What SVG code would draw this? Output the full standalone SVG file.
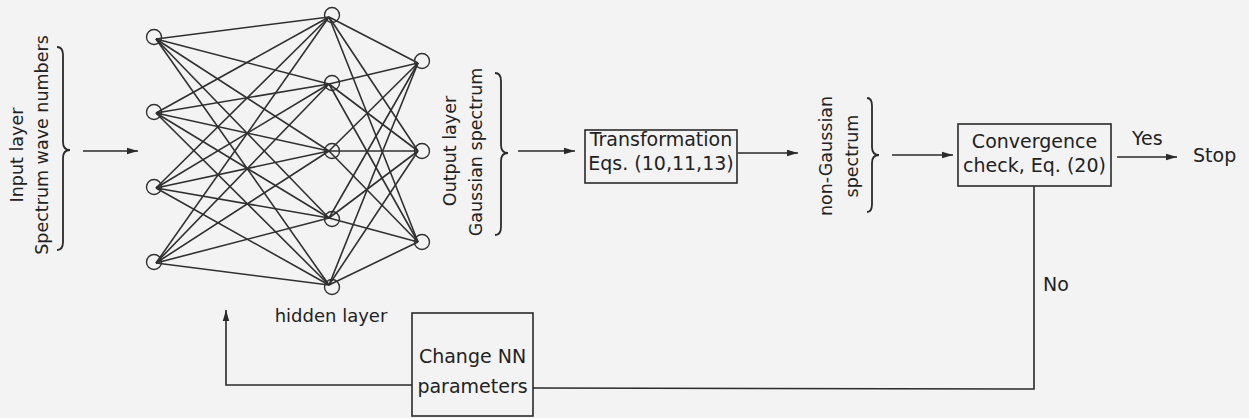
<svg xmlns="http://www.w3.org/2000/svg" width="1249" height="418" viewBox="0 0 1249 418">
<defs>
<marker id="ah" markerWidth="12" markerHeight="8" refX="11" refY="4" orient="auto" markerUnits="userSpaceOnUse">
<path d="M0,0.8 L11,4 L0,7.2 Z" fill="#2a2a2a"/>
</marker>
<style>
.t{font-family:"DejaVu Sans","Liberation Sans",sans-serif;font-size:18px;fill:#222}
.b{font-size:19px}
.r{font-size:17.5px}
.c{text-anchor:middle}
.ln{stroke:#303030;stroke-width:1.6;fill:none}
.node{fill:none;stroke:#303030;stroke-width:1.4}
.box{fill:none;stroke:#2a2a2a;stroke-width:1.6}
.conn{stroke:#2a2a2a;stroke-width:1.6;fill:none}
.brace{stroke:#2a2a2a;stroke-width:1.8;fill:none}
</style>
</defs>
<rect width="1249" height="418" fill="#f3f3f3"/>

<g id="network-edges">
<line class="ln" x1="156" y1="39" x2="329" y2="17"/>
<line class="ln" x1="156" y1="39" x2="329" y2="84"/>
<line class="ln" x1="156" y1="39" x2="329" y2="151"/>
<line class="ln" x1="156" y1="39" x2="329" y2="218"/>
<line class="ln" x1="156" y1="39" x2="329" y2="285"/>
<line class="ln" x1="156" y1="113" x2="329" y2="17"/>
<line class="ln" x1="156" y1="113" x2="329" y2="84"/>
<line class="ln" x1="156" y1="113" x2="329" y2="151"/>
<line class="ln" x1="156" y1="113" x2="329" y2="218"/>
<line class="ln" x1="156" y1="113" x2="329" y2="285"/>
<line class="ln" x1="156" y1="188" x2="329" y2="17"/>
<line class="ln" x1="156" y1="188" x2="329" y2="84"/>
<line class="ln" x1="156" y1="188" x2="329" y2="151"/>
<line class="ln" x1="156" y1="188" x2="329" y2="218"/>
<line class="ln" x1="156" y1="188" x2="329" y2="285"/>
<line class="ln" x1="156" y1="263" x2="329" y2="17"/>
<line class="ln" x1="156" y1="263" x2="329" y2="84"/>
<line class="ln" x1="156" y1="263" x2="329" y2="151"/>
<line class="ln" x1="156" y1="263" x2="329" y2="218"/>
<line class="ln" x1="156" y1="263" x2="329" y2="285"/>
<line class="ln" x1="329" y1="17" x2="418" y2="63"/>
<line class="ln" x1="329" y1="17" x2="418" y2="151"/>
<line class="ln" x1="329" y1="17" x2="418" y2="242"/>
<line class="ln" x1="329" y1="84" x2="418" y2="63"/>
<line class="ln" x1="329" y1="84" x2="418" y2="151"/>
<line class="ln" x1="329" y1="84" x2="418" y2="242"/>
<line class="ln" x1="329" y1="151" x2="418" y2="63"/>
<line class="ln" x1="329" y1="151" x2="418" y2="151"/>
<line class="ln" x1="329" y1="151" x2="418" y2="242"/>
<line class="ln" x1="329" y1="218" x2="418" y2="63"/>
<line class="ln" x1="329" y1="218" x2="418" y2="151"/>
<line class="ln" x1="329" y1="218" x2="418" y2="242"/>
<line class="ln" x1="329" y1="285" x2="418" y2="63"/>
<line class="ln" x1="329" y1="285" x2="418" y2="151"/>
<line class="ln" x1="329" y1="285" x2="418" y2="242"/>
</g>

<g id="input-nodes">
<circle class="node" cx="154" cy="37" r="7.5"/>
<circle class="node" cx="154" cy="112" r="7.5"/>
<circle class="node" cx="154" cy="187" r="7.5"/>
<circle class="node" cx="154" cy="262" r="7.5"/>
</g>
<g id="hidden-nodes">
<circle class="node" cx="332" cy="15" r="7.5"/>
<circle class="node" cx="332" cy="83" r="7.5"/>
<circle class="node" cx="332" cy="151" r="7.5"/>
<circle class="node" cx="332" cy="219" r="7.5"/>
<circle class="node" cx="332" cy="287" r="7.5"/>
</g>
<g id="output-nodes">
<circle class="node" cx="422" cy="61" r="7.5"/>
<circle class="node" cx="422" cy="151" r="7.5"/>
<circle class="node" cx="422" cy="242" r="7.5"/>
</g>

<g id="input-label">
<text class="t r c" transform="translate(23,155) rotate(-90)">Input layer</text>
<text class="t r c" transform="translate(48,145) rotate(-90)">Spectrum wave numbers</text>
<path class="brace" d="M57,47 Q63,47 63,55 L63,142 Q63,150 70,150 Q63,150 63,158 L63,242 Q63,250 57,250"/>
</g>

<g id="hidden-label">
<text class="t c" x="331" y="322">hidden layer</text>
</g>

<g id="output-label">
<text class="t r c" transform="translate(456,151) rotate(-90)">Output layer</text>
<text class="t r c" transform="translate(482,152) rotate(-90)">Gaussian spectrum</text>
<path class="brace" d="M495,73 Q501,73 501,81 L501,145 Q501,153 508,153 Q501,153 501,161 L501,227 Q501,235 495,235"/>
</g>

<g id="transformation">
<rect class="box" x="585" y="130" width="152" height="53"/>
<text class="t b c" x="661" y="146">Transformation</text>
<text class="t b c" x="661" y="170">Eqs. (10,11,13)</text>
</g>

<g id="nongaussian-label">
<text class="t r c" transform="translate(832,156) rotate(-90)">non-Gaussian</text>
<text class="t r c" transform="translate(858,156) rotate(-90)">spectrum</text>
<path class="brace" d="M867,98 Q872,98 872,106 L872,147 Q872,155 879,155 Q872,155 872,163 L872,204 Q872,212 867,212"/>
</g>

<g id="convergence">
<rect class="box" x="958" y="124" width="153" height="62"/>
<text class="t b c" x="1034.5" y="148">Convergence</text>
<text class="t b c" x="1034.5" y="172">check, Eq. (20)</text>
</g>

<g id="stop">
<text class="t b" x="1193" y="162">Stop</text>
</g>

<g id="change-nn">
<rect class="box" x="412" y="313" width="121" height="103"/>
<text class="t b c" x="472.5" y="363">Change NN</text>
<text class="t b c" x="472.5" y="393">parameters</text>
</g>

<g id="connectors">
<line class="conn" x1="83" y1="151" x2="138" y2="151" marker-end="url(#ah)"/>
<line class="conn" x1="518" y1="151" x2="575" y2="151" marker-end="url(#ah)"/>
<line class="conn" x1="738" y1="153" x2="798" y2="153" marker-end="url(#ah)"/>
<line class="conn" x1="892" y1="155" x2="953" y2="155" marker-end="url(#ah)"/>
<line class="conn" x1="1117" y1="157" x2="1177" y2="157" marker-end="url(#ah)"/>
<text class="t b" x="1132" y="145">Yes</text>
<polyline class="conn" points="1034,186 1034,389 533,388"/>
<text class="t b" x="1043" y="291">No</text>
<polyline class="conn" points="412,385 226,385 226,310" marker-end="url(#ah)"/>
</g>
</svg>
